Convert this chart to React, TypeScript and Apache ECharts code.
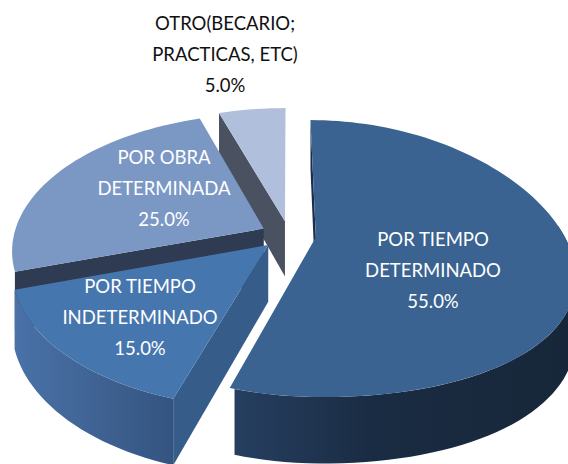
import React, { useEffect, useRef } from "react";
import * as echarts from "echarts";

const names = ["POR TIEMPO\nDETERMINADO", "POR TIEMPO\nINDETERMINADO", "POR OBRA\nDETERMINADA", "OTRO(BECARIO;\nPRACTICAS, ETC)"];
const values = [55, 15, 25, 5];
const topColors = ["#3a6391", "#4676ae", "#7b98c4", "#b0c0dc"];
const cutColors = ["#1b2f49", "#365c8a", "#2f3b52", "#4a5160"];
const wallStart = ["#263f60", "#4a72a8", "#2f3b52", "#4a5160"];
const wallEnd = ["#172739", "#345480", "#2f3b52", "#4a5160"];
const wallVisible = [true, true, false, false];
const sliceShift = [3, 0, 0, 2];
const labelX = [433, 140, 164, 225];
const labelY = [270, 317, 188, 54];
const labelColors = ["#ffffff", "#ffffff", "#ffffff", "#111111"];

const cx = 287, cy = 235, Rx = 250, Ry = 134.5, k = 0.154, kRight = 0.26, explode = 0.105, depth = 56;
const rad = (d: number) => (d * Math.PI) / 180;
const project = (u: number, v: number, dx: number) => {
  const w = 1 + k * v;
  const wx = 1 + (u > 0 ? kRight : k) * v;
  return [dx + cx + ((u > 0 ? 248 : Rx) * u) / wx, cy - (Ry * v) / w, depth / w];
};

const total = values.reduce((a, b) => a + b, 0);
const starts: number[] = [];
values.reduce((acc, v, i) => { starts[i] = acc; return acc + (v / total) * 360; }, 0);

const renderItem = (_p: any, api: any) => {
  const i = api.value(1) as number;
  const val = api.value(0) as number;
  const a0 = starts[i], a1 = a0 + (val / total) * 360;
  const mid = rad((a0 + a1) / 2);
  const ou = explode * Math.sin(mid), ov = explode * Math.cos(mid);
  const rim = (a: number) => project(ou + Math.sin(rad(a)), ov + Math.cos(rad(a)), sliceShift[i]);
  const apex = project(ou, ov, sliceShift[i]);
  const children: any[] = [];

  // visible cut face at the slice's start angle
  const s = rim(a0);
  children.push({
    type: "polygon",
    shape: { points: [[apex[0], apex[1]], [s[0], s[1]], [s[0], s[1] + s[2]], [apex[0], apex[1] + apex[2]]] },
    style: { fill: cutColors[i] },
  });

  // outer wall, only the part that faces the viewer
  const w0 = Math.max(a0, 85), w1 = Math.min(a1, 275);
  if (wallVisible[i] && w1 > w0) {
    const up: number[][] = [], down: number[][] = [];
    for (let a = w0; a <= w1 + 0.001; a += 2) {
      const p = rim(a);
      up.push([p[0], p[1]]);
      down.unshift([p[0], p[1] + p[2]]);
    }
    children.push({
      type: "polygon",
      shape: { points: up.concat(down) },
      style: {
        fill: {
          type: "linear", x: 1, y: 0, x2: 0, y2: 0,
          colorStops: i === 0
            ? [{ offset: 0, color: wallEnd[i] }, { offset: 0.6, color: "#1a2c43" }, { offset: 1, color: wallStart[i] }]
            : [{ offset: 0, color: wallEnd[i] }, { offset: 1, color: wallStart[i] }],
        },
      },
    });
  }

  // top surface
  const pts: number[][] = [[apex[0], apex[1]]];
  for (let a = a0; a <= a1 + 0.001; a += 2) {
    const p = rim(a);
    pts.push([p[0], p[1]]);
  }
  children.push({ type: "polygon", shape: { points: pts }, style: { fill: topColors[i] } });

  return { type: "group", children };
};

const labelGraphics = names.map((n, i) => ({
  type: "text",
  x: labelX[i],
  y: labelY[i],
  z: 10,
  style: {
    text: `${n}\n${values[i].toFixed(1)}%`,
    fill: labelColors[i],
    font: '18.5px Lato, sans-serif',
    lineHeight: 31,
    align: "center",
    verticalAlign: "middle",
  },
}));

export default function App() {
  const ref = useRef<HTMLDivElement>(null);
  useEffect(() => {
    const chart = echarts.init(ref.current!, null, { renderer: "svg" });
    chart.setOption({
      animation: false,
      backgroundColor: "#ffffff",
      graphic: labelGraphics,
      series: [
        {
          type: "custom",
          coordinateSystem: "none",
          renderItem,
          silent: true,
          // painted back to front
          data: values.map((v, i) => [v, i]).reverse(),
        },
      ],
    });
    return () => chart.dispose();
  }, []);
  return <div ref={ref} style={{ position: "absolute", left: 0, top: 0, width: 568, height: 464 }} />;
}
